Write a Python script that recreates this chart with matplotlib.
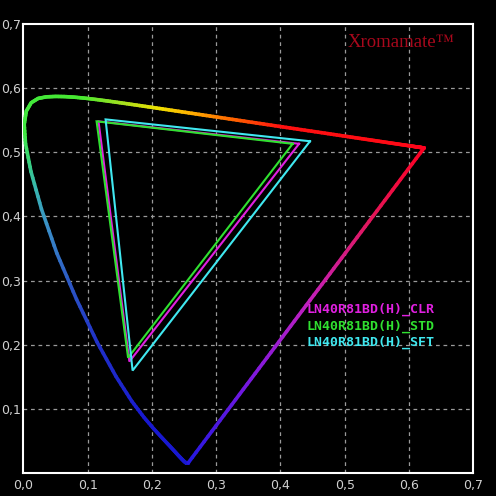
import numpy as np
import matplotlib
matplotlib.use("Agg")
import matplotlib.pyplot as plt
from matplotlib.collections import LineCollection
from matplotlib.colors import to_rgb
from matplotlib import font_manager

# CIE 1931 2-degree spectral locus chromaticities (x, y), 380..700 nm step 5
wavelengths = list(range(380, 705, 5))
locus_x = [0.1741, 0.1740, 0.1738, 0.1736, 0.1733, 0.1730, 0.1726, 0.1721, 0.1714, 0.1703,
           0.1689, 0.1669, 0.1644, 0.1611, 0.1566, 0.1510, 0.1440, 0.1355, 0.1241, 0.1096,
           0.0913, 0.0687, 0.0454, 0.0235, 0.0082, 0.0039, 0.0139, 0.0389, 0.0743, 0.1142,
           0.1547, 0.1929, 0.2296, 0.2658, 0.3016, 0.3373, 0.3731, 0.4087, 0.4441, 0.4788,
           0.5125, 0.5448, 0.5752, 0.6029, 0.6270, 0.6482, 0.6658, 0.6801, 0.6915, 0.7006,
           0.7079, 0.7140, 0.7190, 0.7230, 0.7260, 0.7283, 0.7300, 0.7311, 0.7320, 0.7327,
           0.7334, 0.7340, 0.7344, 0.7346, 0.7347]
locus_y = [0.0050, 0.0050, 0.0049, 0.0049, 0.0048, 0.0048, 0.0048, 0.0048, 0.0051, 0.0058,
           0.0069, 0.0086, 0.0109, 0.0138, 0.0177, 0.0227, 0.0297, 0.0399, 0.0578, 0.0868,
           0.1327, 0.2007, 0.2950, 0.4127, 0.5384, 0.6548, 0.7502, 0.8120, 0.8338, 0.8262,
           0.8059, 0.7816, 0.7543, 0.7243, 0.6923, 0.6589, 0.6245, 0.5896, 0.5547, 0.5202,
           0.4866, 0.4544, 0.4242, 0.3965, 0.3725, 0.3514, 0.3340, 0.3197, 0.3083, 0.2993,
           0.2920, 0.2859, 0.2809, 0.2770, 0.2740, 0.2717, 0.2700, 0.2689, 0.2680, 0.2673,
           0.2666, 0.2660, 0.2656, 0.2654, 0.2653]

# Measured gamuts (u', v'): red, green, blue vertices
series_names = ["LN40R81BD(H)_CLR", "LN40R81BD(H)_STD", "LN40R81BD(H)_SFT"]
series_u = [[0.429, 0.117, 0.165],
            [0.419, 0.114, 0.163],
            [0.446, 0.128, 0.170]]
series_v = [[0.513, 0.548, 0.174],
            [0.513, 0.548, 0.180],
            [0.517, 0.551, 0.160]]
series_colors = ["#e020e0", "#30e030", "#40e8f0"]

x_ticks = [0.0, 0.1, 0.2, 0.3, 0.4, 0.5, 0.6, 0.7]
x_labels = ["0,0", "0,1", "0,2", "0,3", "0,4", "0,5", "0,6", "0,7"]
y_ticks = [0.1, 0.2, 0.3, 0.4, 0.5, 0.6, 0.7]
y_labels = ["0,1", "0,2", "0,3", "0,4", "0,5", "0,6", "0,7"]

lx = np.array(locus_x)
ly = np.array(locus_y)
den = -2 * lx + 12 * ly + 3
lu = 4 * lx / den
lv = 9 * ly / den
wl = np.array(wavelengths, dtype=float)

# colour anchors for the spectral line
anchor_wl = [380, 460, 475, 482, 488, 493, 498, 503, 545, 560, 572, 580, 590, 600, 700]
anchor_col = ["#1818d0", "#1818d0", "#2030c8", "#2c58c4", "#3a8ec8", "#38b8b0",
              "#38d870", "#40e840", "#48e830", "#a0e020", "#f0e000", "#ffb000",
              "#ff6000", "#ff1010", "#ff0020"]
anchor_rgb = np.array([to_rgb(c) for c in anchor_col])

def spec_color(w):
    return [np.interp(w, anchor_wl, anchor_rgb[:, k]) for k in range(3)]

# pick a narrow font for the tick labels if one is available
names = {f.name for f in font_manager.fontManager.ttflist}
if "Liberation Sans Narrow" in names:
    tick_font = dict(fontfamily="Liberation Sans Narrow", fontsize=10)
else:
    tick_font = dict(fontfamily="DejaVu Sans", fontsize=9)

fig = plt.figure(figsize=(4.96, 4.96), dpi=100, facecolor="black")
ax = fig.add_axes([23.3 / 496, 1 - 473.3 / 496, 450 / 496, 449.6 / 496])
ax.set_facecolor("black")
ax.set_xlim(0, 0.7)
ax.set_ylim(0, 0.7)

# spectral locus, subdivided for smooth colour
segs, cols = [], []
n_sub = 6
for i in range(len(lu) - 1):
    for j in range(n_sub):
        t0, t1 = j / n_sub, (j + 1) / n_sub
        p0 = (lu[i] + (lu[i + 1] - lu[i]) * t0, lv[i] + (lv[i + 1] - lv[i]) * t0)
        p1 = (lu[i] + (lu[i + 1] - lu[i]) * t1, lv[i] + (lv[i + 1] - lv[i]) * t1)
        segs.append([p0, p1])
        cols.append(spec_color(wl[i] + (wl[i + 1] - wl[i]) * (t0 + t1) / 2))

# purple line from red end back to violet end
p_col = np.array([to_rgb(c) for c in ["#ff0020", "#e01860", "#c020c0", "#7818e0", "#2418e0"]])
p_t = np.linspace(0, 1, len(p_col))
n_p = 60
for j in range(n_p):
    t0, t1 = j / n_p, (j + 1) / n_p
    p0 = (lu[-1] + (lu[0] - lu[-1]) * t0, lv[-1] + (lv[0] - lv[-1]) * t0)
    p1 = (lu[-1] + (lu[0] - lu[-1]) * t1, lv[-1] + (lv[0] - lv[-1]) * t1)
    segs.append([p0, p1])
    tm = (t0 + t1) / 2
    cols.append([np.interp(tm, p_t, p_col[:, k]) for k in range(3)])

lc = LineCollection(segs, colors=cols, linewidths=2.6, capstyle="round", joinstyle="round", zorder=3)
ax.add_collection(lc)

for u, v, c in zip(series_u, series_v, series_colors):
    ax.plot(u + [u[0]], v + [v[0]], color=c, lw=1.5, zorder=4, solid_joinstyle="miter")

# grid
for t in x_ticks[1:-1]:
    ax.axvline(t, color="#9a9a9a", lw=0.9, ls=(0, (3, 3)), zorder=1)
for t in y_ticks[:-1]:
    ax.axhline(t, color="#9a9a9a", lw=0.9, ls=(0, (3, 3)), zorder=1)

for s in ax.spines.values():
    s.set_color("white")
    s.set_linewidth(1.5)

ax.set_xticks(x_ticks)
ax.set_xticklabels(x_labels, color="#d0d0d0", **tick_font)
ax.set_yticks(y_ticks)
ax.set_yticklabels(y_labels, color="#d0d0d0", **tick_font)
ax.tick_params(axis="both", length=0, pad=4)
ax.tick_params(axis="y", pad=1.5)

ax.text(0.5045, 0.6645, "Xromamate\u2122", fontfamily=["Liberation Serif", "DejaVu Serif"],
        fontsize=13.5, color="#a8081c", ha="left", va="baseline", zorder=5)

text_v = [0.2498, 0.224, 0.198]
for name, c, tv in zip(series_names, series_colors, text_v):
    ax.text(0.441, tv, name, fontfamily="DejaVu Sans Mono", fontsize=9.5, color=c,
            fontweight="bold", ha="left", va="baseline", zorder=5)

fig.savefig("out.png", dpi=100, facecolor="black")
